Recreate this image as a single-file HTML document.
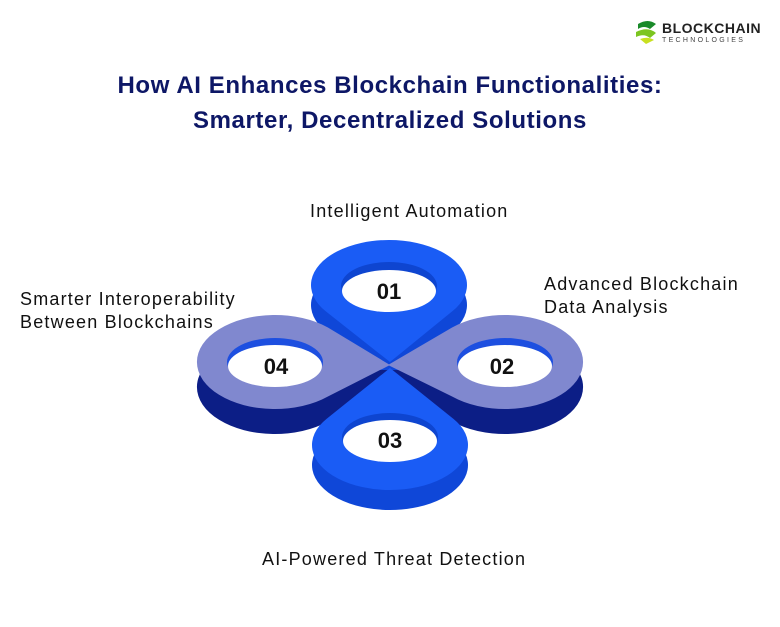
<!DOCTYPE html>
<html><head><style>
body{margin:0;width:780px;height:627px;background:#fff;overflow:hidden;font-family:"Liberation Sans",sans-serif;position:relative}
.t{position:absolute;left:0;width:780px;text-align:center;font-weight:bold;color:#0d1766;font-size:24px;letter-spacing:0.6px;line-height:35px;top:68px}
.l{position:absolute;font-size:18px;letter-spacing:1.2px;color:#111;line-height:23px;white-space:nowrap}
</style></head><body>
<svg width="780" height="627" style="position:absolute;left:0;top:0">
<path d="M638 24 Q648 18 656 24 L650 29 Q644 25 638 29Z" fill="#1a8a2a"/>
<path d="M636 32 Q648 26 656 33 L650 38 Q644 33 636 37Z" fill="#7cc520"/>
<path d="M640 39 Q648 36 654 40 L646 44Z" fill="#c8e020"/>
<text x="662" y="33" font-family="Liberation Sans" font-weight="bold" font-size="14" fill="#222" letter-spacing="0.5">BLOCKCHAIN</text>
<text x="662" y="42" font-family="Liberation Sans" font-size="7" fill="#444" letter-spacing="2.3">TECHNOLOGIES</text>
<!-- 01 -->
<path transform="translate(0,20)" d="M390,362 L325.7,311.3 A78 45 0 1 1 452.3,311.3 Z" fill="#0f47d8"/>
<path d="M390,362 L325.7,311.3 A78 45 0 1 1 452.3,311.3 Z" fill="#1a5cf5"/>
<ellipse cx="389" cy="286" rx="48" ry="24" fill="#0e45d0"/><ellipse cx="389" cy="291" rx="47" ry="21" fill="#fff"/>
<polygon points="350,370 430,370 390,395" fill="#0c1e86"/>
<!-- 04 -->
<path transform="translate(0,25)" d="M390,365 L327.9,327.5 A78 47 0 1 0 327.9,396.5 Z" fill="#0c1e86"/>
<path d="M390,365 L327.9,327.5 A78 47 0 1 0 327.9,396.5 Z" fill="#8088cf"/>
<ellipse cx="275" cy="362" rx="48" ry="24" fill="#1d4fe0"/><ellipse cx="275" cy="366" rx="47" ry="21" fill="#fff"/>
<!-- 02 -->
<path transform="translate(0,25)" d="M388,365 L452.1,327.5 A78 47 0 1 1 452.1,396.5 Z" fill="#0c1e86"/>
<path d="M388,365 L452.1,327.5 A78 47 0 1 1 452.1,396.5 Z" fill="#8088cf"/>
<ellipse cx="505" cy="362" rx="48" ry="24" fill="#1d4fe0"/><ellipse cx="505" cy="366" rx="47" ry="21" fill="#fff"/>
<!-- 03 -->
<path transform="translate(0,20)" d="M390,368 L326.7,418.7 A78 45 0 1 0 453.3,418.7 Z" fill="#0f47d8"/>
<path d="M390,368 L326.7,418.7 A78 45 0 1 0 453.3,418.7 Z" fill="#1a5cf5"/>
<ellipse cx="390" cy="437" rx="48" ry="24" fill="#0e45d0"/><ellipse cx="390" cy="441" rx="47" ry="21" fill="#fff"/>
<g font-family="Liberation Sans" font-weight="bold" font-size="22" fill="#111" text-anchor="middle">
<text x="389" y="299">01</text><text x="502" y="374">02</text><text x="390" y="448">03</text><text x="276" y="374">04</text></g>
</svg>
<div class="t">How AI Enhances Blockchain Functionalities:<br>Smarter, Decentralized Solutions</div>
<div class="l" style="left:310px;top:200px">Intelligent Automation</div>
<div class="l" style="left:544px;top:273px">Advanced Blockchain<br>Data Analysis</div>
<div class="l" style="left:20px;top:288px">Smarter Interoperability<br>Between Blockchains</div>
<div class="l" style="left:262px;top:548px">AI-Powered Threat Detection</div>
</body></html>
